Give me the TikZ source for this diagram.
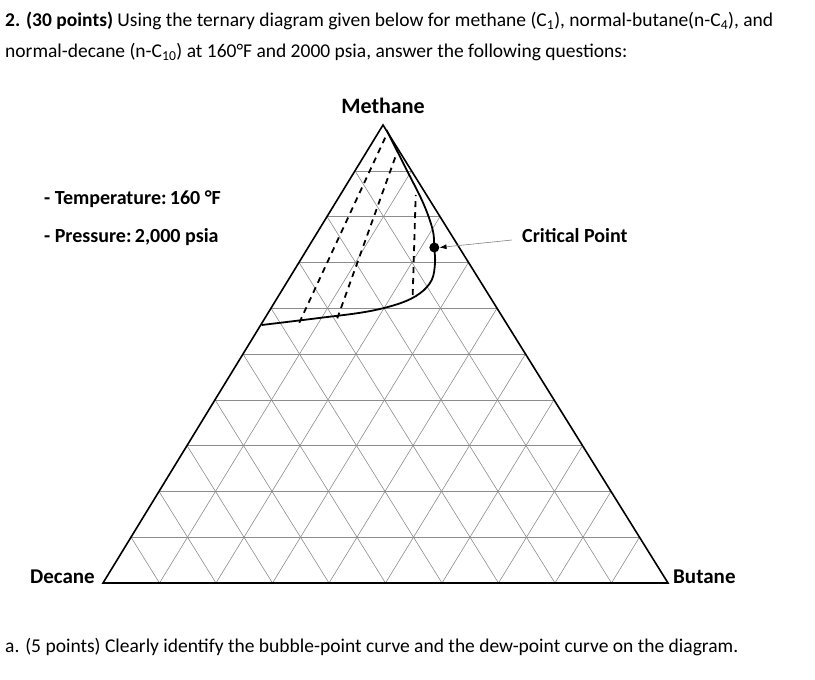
\documentclass[tikz,border=0pt]{standalone}
\usepackage{fontspec}
\setmainfont{Carlito}
\usetikzlibrary{calc,arrows.meta}
\begin{document}
\begin{tikzpicture}[x=1pt,y=-1pt,
  grid/.style={draw=black!45,line width=0.6pt},
  edge/.style={draw=black,line width=1.6pt},
  tie/.style={draw=black,line width=1.8pt,dash pattern=on 6pt off 5pt},
  lbl/.style={font=\bfseries\fontsize{20}{24}\selectfont,inner sep=0pt},
  txt/.style={font=\fontsize{19.5}{23}\selectfont,inner sep=0pt,anchor=west}]
\useasboundingbox (0,0) rectangle (815,680);
\coordinate (A) at (383,125);
\coordinate (L) at (103,583);
\coordinate (R) at (668,583);
\foreach \k in {1,...,9}{
  \draw[grid] ($(L)!\k/10!(A)$) -- ($(R)!\k/10!(A)$);
  \draw[grid] ($(L)!\k/10!(R)$) -- ($(A)!\k/10!(R)$);
  \draw[grid] ($(R)!\k/10!(L)$) -- ($(A)!\k/10!(L)$);
}
\draw[edge] (A) -- (L) -- (R) -- cycle;
\coordinate (t1a) at (299.3,322.7); \coordinate (t1b) at (385.5,137);
\coordinate (t2a) at (337.3,318.3); \coordinate (t2b) at (396.7,153.3);
\coordinate (t3a) at (412.7,295);   \coordinate (t3b) at (415.7,195);
\draw[tie] (t1a) -- (t1b);
\draw[tie] (t2a) -- (t2b);
\draw[tie] (t3a) -- (t3b);
\draw[line width=1.8pt] plot[smooth,tension=0.6] coordinates {
 (386.5,130) (406.7,170) (423.3,203.3) (432.7,230) (434.3,248.3) (435,263.3)
 (431.7,280) (420,293.3) (400,303.3) (366.7,311.7) (316.7,318.3) (261.7,325)};
\node[circle,fill=black,inner sep=0pt,minimum size=10pt] (cp) at (434.3,247.5) {};
\node[lbl,anchor=west] (cpl) at (522,236) {Critical Point};
\coordinate (ae) at (512,240);
\draw[black!50,line width=0.6pt,-{Latex[length=7pt,width=5pt,color=black]}] (ae) -- (cp.east);
\node[lbl,font=\bfseries\fontsize{22}{26}\selectfont] (meth) at (383,106) {Methane};
\node[lbl,font=\bfseries\fontsize{21}{26}\selectfont,anchor=east] (dec) at (95,577) {Decane};
\node[lbl,font=\bfseries\fontsize{21}{26}\selectfont,anchor=west] (but) at (673,577) {Butane};
\node[lbl,anchor=west] (temp) at (44,199) {- Temperature:\,160 °F};
\node[lbl,anchor=west] (pres) at (44,237) {- Pressure:\,2,000 psia};
\node[txt] (h1) at (5,21) {\textbf{2. (30 points)} Using the ternary diagram given below for methane (C\textsubscript{1}), normal-butane(n-C\textsubscript{4}), and};
\node[txt] (h2) at (5,52) {normal-decane (n-C\textsubscript{10}) at 160°F and 2000 psia, answer the following questions:};
\node[txt] (qa) at (5,647) {a. (5 points) Clearly identify the bubble-point curve and the dew-point curve on the diagram.};
\end{tikzpicture}
\end{document}
